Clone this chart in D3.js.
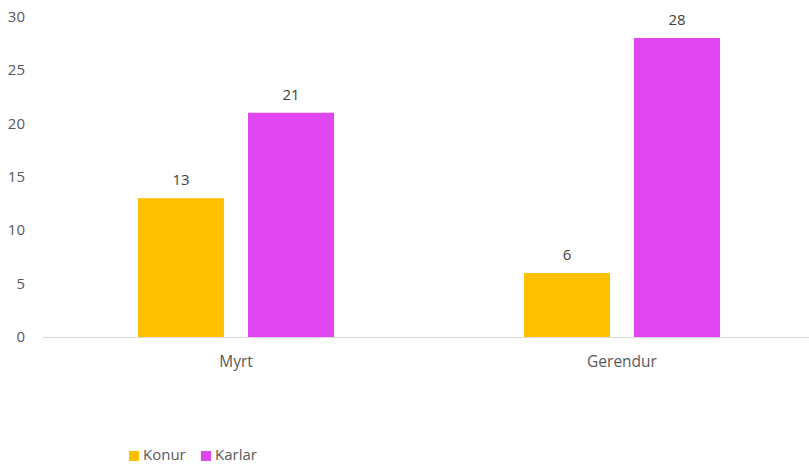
<!DOCTYPE html>
<html>
<head>
<meta charset="utf-8">
<script src="https://cdn.jsdelivr.net/npm/d3@7"></script>
<style>
  body { margin: 0; background: #fff; }
  text { font-family: "Open Sans", sans-serif; fill: #595959; }
</style>
</head>
<body>
<script>
const categories = ["Myrt", "Gerendur"];
const seriesNames = ["Konur", "Karlar"];
const konur = [13, 6];
const karlar = [21, 28];
const yTicks = [0, 5, 10, 15, 20, 25, 30];
const colors = ["#FFC000", "#E047F0"];

const w = 809;
const h = 464;

const data = categories.map((c, i) => ({ cat: c, values: [konur[i], karlar[i]] }));

const svg = d3.select("body").append("svg")
  .attr("width", w)
  .attr("height", h);

// scales
const x0 = d3.scaleBand()
  .domain(categories)
  .range([43, 815])
  .paddingInner(0.492)
  .paddingOuter(0.246);

const x1 = d3.scaleBand()
  .domain(seriesNames)
  .range([0, x0.bandwidth()])
  .paddingInner(0.218);

const y = d3.scaleLinear()
  .domain([0, 28])
  .range([337, 38]);

// y axis labels
svg.append("g")
  .selectAll("text")
  .data(yTicks)
  .enter()
  .append("text")
  .attr("x", 25)
  .attr("y", d => y(d))
  .attr("dy", "0.35em")
  .attr("text-anchor", "end")
  .attr("font-size", "15px")
  .text(d => d);

// bars
const groups = svg.append("g")
  .selectAll("g")
  .data(data)
  .enter()
  .append("g")
  .attr("transform", d => `translate(${x0(d.cat)},0)`);

groups.selectAll("rect")
  .data(d => d.values.map((v, i) => ({ name: seriesNames[i], value: v, i })))
  .enter()
  .append("rect")
  .attr("x", d => x1(d.name))
  .attr("y", d => y(d.value))
  .attr("width", x1.bandwidth())
  .attr("height", d => y(0) - y(d.value))
  .attr("fill", d => colors[d.i]);

groups.selectAll("text")
  .data(d => d.values.map((v, i) => ({ name: seriesNames[i], value: v })))
  .enter()
  .append("text")
  .attr("x", d => x1(d.name) + x1.bandwidth() / 2)
  .attr("y", d => y(d.value) - 13)
  .attr("text-anchor", "middle")
  .attr("font-size", "15px")
  .style("fill", "#404040")
  .text(d => d.value);

// x axis line
svg.append("line")
  .attr("x1", 43)
  .attr("x2", w)
  .attr("y1", y(0) + 0.5)
  .attr("y2", y(0) + 0.5)
  .attr("stroke", "#d9d9d9")
  .attr("stroke-width", 1);

// category labels
svg.append("g")
  .selectAll("text")
  .data(categories)
  .enter()
  .append("text")
  .attr("x", d => x0(d) + x0.bandwidth() / 2)
  .attr("y", 367)
  .attr("text-anchor", "middle")
  .attr("font-size", "15.5px")
  .text(d => d);

// legend
const legendX = [129, 201];
const legend = svg.append("g");
legend.selectAll("rect")
  .data(seriesNames)
  .enter()
  .append("rect")
  .attr("x", (d, i) => legendX[i])
  .attr("y", 451)
  .attr("width", 10)
  .attr("height", 10)
  .attr("fill", (d, i) => colors[i]);

legend.selectAll("text")
  .data(seriesNames)
  .enter()
  .append("text")
  .attr("x", (d, i) => legendX[i] + 14)
  .attr("y", 460)
  .attr("font-size", "15px")
  .text(d => d);
</script>
</body>
</html>
